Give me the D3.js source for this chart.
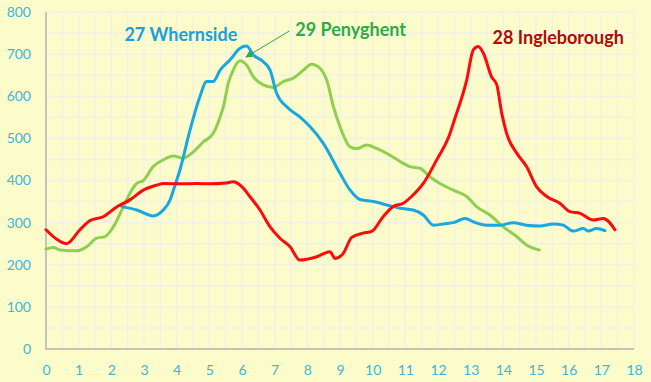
<!DOCTYPE html>
<html><head><meta charset="utf-8">
<script src="https://cdn.jsdelivr.net/npm/d3@7"></script>
<style>html,body{margin:0;padding:0;background:#fcfcca;}svg{display:block;}</style>
</head><body>
<svg id="c" width="651" height="382"></svg>
<script>
const xTicks = [0,1,2,3,4,5,6,7,8,9,10,11,12,13,14,15,16,17,18];
const yTicks = [0,100,200,300,400,500,600,700,800];

const ingleDist = [0,0.3,0.63,1.04,1.35,1.75,2.16,2.57,2.98,3.39,3.59,4.2,4.61,5.0,5.5,5.73,6.0,6.24,6.55,6.86,7.16,7.47,7.77,8.29,8.69,8.85,9.1,9.36,9.71,9.97,10.32,10.63,10.94,11.19,11.55,11.96,12.37,12.47,12.88,13.08,13.23,13.39,13.64,13.8,13.95,14.1,14.41,14.71,15.02,15.33,15.73,16.04,16.35,16.75,17.06,17.42];
const ingleVal  = [283,262,250,283,305,314,337,354,377,389,393,392,393,392,394,397,385,362,330,290,263,243,211,219,231,215,227,265,275,279,314,338,346,362,393,449,512,536,639,710,718,702,646,627,560,512,465,433,385,362,346,326,322,306,310,283];

const whernDist = [2.32,2.78,3.28,3.59,3.8,3.9,4.1,4.41,4.71,4.92,5.12,5.33,5.63,5.94,6.14,6.35,6.65,6.86,7.06,7.37,7.77,8.08,8.49,9.0,9.31,9.61,10.02,10.43,10.84,11.24,11.55,11.86,12.27,12.47,12.83,13.08,13.49,13.9,14.3,14.71,15.12,15.53,15.83,16.14,16.45,16.6,16.85,17.11];
const whernVal  = [338,330,316,330,354,377,425,520,599,635,635,662,686,714,719,698,682,662,607,575,551,528,488,417,377,355,350,342,334,330,318,294,298,300,310,302,294,294,300,294,292,297,294,280,286,280,286,281];

const penyDist = [0,0.22,0.43,0.94,1.25,1.55,1.81,2.06,2.37,2.57,2.78,2.98,3.28,3.59,3.9,4.2,4.51,4.82,5.12,5.33,5.43,5.58,5.73,5.94,6.14,6.35,6.65,6.96,7.27,7.57,7.88,8.13,8.39,8.59,8.8,9.0,9.31,9.51,9.82,10.12,10.53,10.84,11.14,11.45,11.75,12.06,12.47,12.88,13.18,13.59,14.0,14.41,14.71,15.1];
const penyVal  = [237,241,235,233,243,263,267,290,338,370,393,400,433,449,458,453,468,492,512,551,575,631,662,684,674,646,627,621,635,643,662,676,666,639,575,528,480,476,484,476,460,445,433,429,409,393,377,362,338,318,290,267,247,235];

const seriesNames = ["27 Whernside","29 Penyghent","28 Ingleborough"];

const svg = d3.select("#c");
svg.append("rect").attr("width",651).attr("height",382).attr("fill","#fcfcca");

const x = d3.scaleLinear().domain([0,18]).range([46,634]);
const y = d3.scaleLinear().domain([0,800]).range([349,12]);

// grid
const g = svg.append("g");
g.selectAll("line.v").data(d3.range(0,18.01,0.5)).join("line")
  .attr("x1",d=>x(d)).attr("x2",d=>x(d)).attr("y1",y(0)).attr("y2",y(800))
  .attr("stroke","#f0f0e6").attr("stroke-width",1.5);
g.selectAll("line.h").data(d3.range(0,800.1,50)).join("line")
  .attr("x1",x(0)).attr("x2",x(18)).attr("y1",d=>y(d)).attr("y2",d=>y(d))
  .attr("stroke","#f0f0e6").attr("stroke-width",1.5);

// axis lines
svg.append("line").attr("x1",x(0)).attr("x2",x(0)).attr("y1",y(800)).attr("y2",y(0)+1)
  .attr("stroke","#c4c4bc").attr("stroke-width",2);
svg.append("line").attr("x1",x(0)-1).attr("x2",x(18)).attr("y1",y(0)).attr("y2",y(0))
  .attr("stroke","#c4c4bc").attr("stroke-width",2);

const tickColor = "#3db5dc";
const ax = svg.append("g").attr("transform",`translate(0,${y(0)})`)
  .call(d3.axisBottom(x).tickValues(xTicks).tickSize(0).tickPadding(16).tickFormat(d3.format("d")));
const ay = svg.append("g").attr("transform",`translate(${x(0)},0)`)
  .call(d3.axisLeft(y).tickValues(yTicks).tickSize(0).tickPadding(15).tickFormat(d3.format("d")));
[ax,ay].forEach(a=>{
  a.select(".domain").remove();
  a.selectAll("text").attr("fill",tickColor).style("font-family","Lato, 'Open Sans', sans-serif").style("font-size","14px");
});

const line = d3.line().x(d=>x(d[0])).y(d=>y(d[1])).curve(d3.curveMonotoneX);
const series = [
  {dist:penyDist, val:penyVal, color:"#8fcf4f"},
  {dist:whernDist, val:whernVal, color:"#1aa7e0"},
  {dist:ingleDist, val:ingleVal, color:"#fe0a0a"}
];
series.forEach(s=>{
  svg.append("path").datum(d3.zip(s.dist,s.val)).attr("d",line)
    .attr("fill","none").attr("stroke",s.color).attr("stroke-width",3)
    .attr("stroke-linejoin","round").attr("stroke-linecap","round");
});

// arrow
const defs = svg.append("defs");
defs.append("marker").attr("id","arr").attr("viewBox","0 0 10 10").attr("refX",9).attr("refY",5)
  .attr("markerWidth",7).attr("markerHeight",7).attr("orient","auto")
  .append("path").attr("d","M0,0L10,5L0,10z").attr("fill","#2aa84a");
svg.append("line").attr("x1",x(7.45)).attr("y1",y(755)).attr("x2",x(6.12)).attr("y2",y(693))
  .attr("stroke","#2aa84a").attr("stroke-width",1).attr("marker-end","url(#arr)");

const lf = "Lato, 'Open Sans', sans-serif";
svg.append("text").attr("x",x(2.4)).attr("y",y(730)).text(seriesNames[0])
  .attr("fill","#1aa0dc").style("font-family",lf).style("font-weight","bold").style("font-size","18px");
svg.append("text").attr("x",x(7.63)).attr("y",y(743)).text(seriesNames[1])
  .attr("fill","#2eaa48").style("font-family",lf).style("font-weight","bold").style("font-size","18px");
svg.append("text").attr("x",x(13.67)).attr("y",y(723)).text(seriesNames[2])
  .attr("fill","#b00a0a").style("font-family",lf).style("font-weight","bold").style("font-size","18px");
</script>
</body></html>
